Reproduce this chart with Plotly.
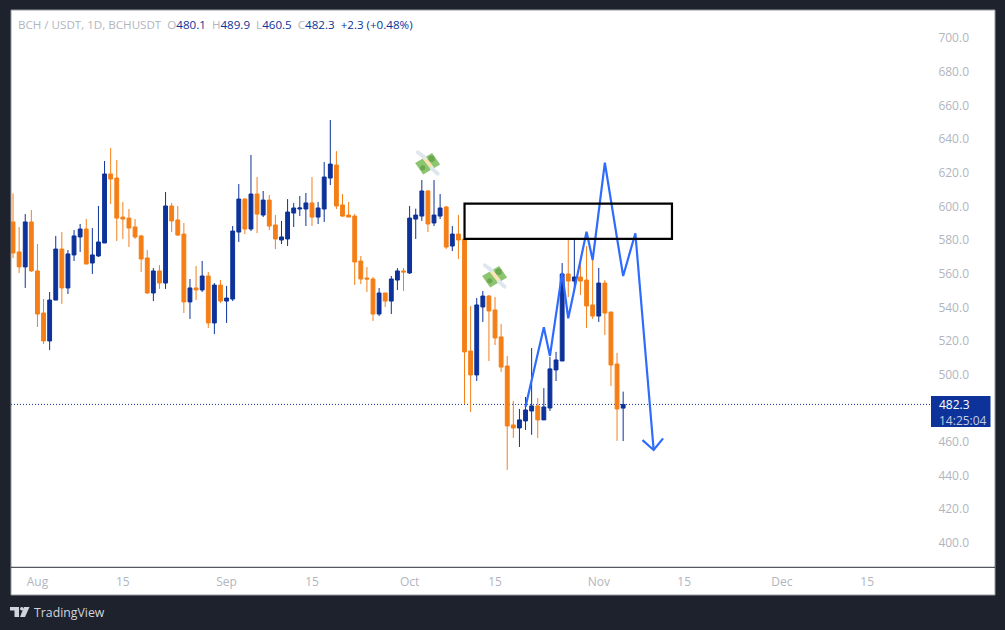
import base64
import pandas as pd
import plotly.graph_objects as go

# ---------- data ----------
start_date = "2021-07-28"
opens = [590.7,572.9,564.0,590.7,561.6,536.6,520.0,544.3,574.6,551.5,571.1,581.8,586.5,566.3,570.5,578.2,619.2,616.8,593.6,593.0,
587.7,582.4,569.3,548.5,561.6,554.4,600.2,591.9,583.5,543.2,551.5,550.3,558.6,530.7,553.2,543.7,544.9,584.7,604.3,586.5,
607.3,594.8,603.7,588.9,580.0,580.6,596.0,598.4,598.4,602.0,593.6,598.4,616.8,624.5,600.8,594.8,594.2,567.5,557.4,556.8,
536.0,548.5,543.7,556.2,561.6,560.4,592.4,594.2,609.1,590.1,594.2,599.6,576.4,583.5,580.6,514.0,499.8,540.2,546.7,538.4,
522.4,505.1,470.1,468.3,472.5,478.4,481.4,473.1,480.2,502.8,508.1,559.8,555.6,558.0,556.2,541.4,534.8,554.4,537.2,506.3,480.1]
highs = [607.7,587.7,595.4,597.8,577.6,545.0,549.1,582.4,584.7,574.0,585.9,589.5,592.5,587.1,600.2,626.9,634.6,627.5,602.6,598.4,
592.5,583.0,574.0,563.3,565.1,608.5,602.0,600.2,590.1,556.8,564.5,567.5,561.0,554.4,556.2,552.7,588.3,613.2,604.9,630.5,
617.4,609.1,606.7,594.8,591.3,604.3,602.0,606.1,607.9,617.4,602.6,626.3,651.3,632.8,607.3,602.6,595.4,570.5,563.9,558.0,
551.5,548.5,558.6,563.3,563.3,600.2,598.6,615.6,609.7,615.6,607.3,600.2,588.3,594.8,601.4,540.8,545.5,549.7,547.3,546.1,
530.1,511.1,484.4,479.6,486.7,515.8,486.1,492.0,510.5,513.5,566.3,580.6,580.6,567.5,576.4,568.7,563.4,556.2,537.2,512.9,489.9]
lows = [569.3,560.4,551.5,561.0,528.3,518.2,514.6,544.3,542.0,547.9,567.5,572.9,565.7,559.8,569.9,578.2,601.4,579.4,580.6,575.8,
580.6,561.0,547.9,543.7,550.9,550.9,584.7,582.4,536.6,533.1,544.3,549.1,527.7,524.1,542.6,530.7,543.7,578.8,583.5,585.3,
584.1,593.6,585.9,574.6,577.6,576.4,587.7,594.2,588.3,588.3,589.5,590.7,612.6,598.4,593.6,593.6,553.3,553.8,549.1,531.9,
534.8,540.2,536.0,550.3,549.7,559.8,580.6,591.3,584.7,588.3,592.5,574.6,573.4,568.7,482.6,477.8,496.2,531.3,508.1,517.6,
501.6,443.4,462.4,457.0,467.1,464.2,462.4,473.1,478.4,496.2,508.1,546.1,550.3,547.3,527.7,533.1,531.3,523.6,493.3,460.6,460.5]
closes = [572.3,564.0,590.7,561.6,536.0,520.0,544.3,574.6,551.5,571.7,582.4,586.5,565.7,571.1,578.8,619.2,616.2,593.0,592.4,587.1,
581.8,568.7,548.5,561.6,554.4,600.2,591.3,582.9,543.2,551.5,550.3,558.6,530.7,553.2,543.7,545.5,585.3,604.3,586.5,607.3,
595.4,603.7,588.3,580.6,581.8,596.6,599.0,599.0,602.0,593.6,599.0,617.4,625.1,600.2,594.2,593.6,566.9,556.8,556.8,536.0,
548.5,543.7,556.8,561.6,561.0,593.0,594.8,609.1,589.5,594.8,599.0,575.8,583.5,580.0,513.5,499.8,541.4,546.7,537.8,521.8,
504.5,469.5,468.3,473.1,479.0,481.4,473.1,480.8,503.4,508.7,559.8,555.6,558.0,555.6,540.8,534.8,554.4,536.6,505.7,479.6,482.3]

tick_dates = ["2021-08-01","2021-08-15","2021-09-01","2021-09-15","2021-10-01","2021-10-15","2021-11-01","2021-11-15","2021-12-01","2021-12-15"]
tick_labels = ["Aug","15","Sep","15","Oct","15","Nov","15","Dec","15"]
# 480.0 sits behind the last-price tag in the reference, so it is not listed
price_ticks = [400,420,440,460,500,520,540,560,580,600,620,640,660,680,700]
price_tick_labels = ["400.0","420.0","440.0","460.0","500.0","520.0","540.0","560.0","580.0","600.0","620.0","640.0","660.0","680.0","700.0"]

wave_dates = ["2021-10-20","2021-10-23","2021-10-24","2021-10-26","2021-10-27","2021-10-30","2021-10-31","2021-11-02","2021-11-05","2021-11-07","2021-11-10"]
wave_prices = [480.9,528.1,511.1,560.4,533.5,584.9,568.1,625.9,558.6,584.0,455.2]
arrow_dates = ["2021-11-08 04:00","2021-11-10","2021-11-11 13:00"]
arrow_prices = [461.1,455.2,462.1]

zone_dates = ["2021-10-10","2021-11-13"]
zone_prices = [580.6,601.6]
last_price = 482.3

# ---------- colours ----------
DARK = "#1e222d"
BLUE = "#0d3299"
ORANGE = "#f57f17"
LINE = "#2e6bff"
MUTED = "#b2b5be"
FONT = "Open Sans"

# ---------- pixel helpers for the chrome ----------
L, R, T, B = 11, 930, 11, 567
def px(x): return (x - L) / (R - L)
def py(y): return 1 - (y - T) / (B - T)

dates = pd.date_range(start_date, periods=len(opens))

fig = go.Figure()
fig.add_trace(go.Candlestick(
    x=dates, open=opens, high=highs, low=lows, close=closes,
    increasing=dict(line=dict(color=BLUE, width=1), fillcolor=BLUE),
    decreasing=dict(line=dict(color=ORANGE, width=1), fillcolor=ORANGE),
    whiskerwidth=0, hoverinfo="skip", showlegend=False,
))
for xs, ys in ((wave_dates, wave_prices), (arrow_dates, arrow_prices)):
    fig.add_trace(go.Scatter(x=xs, y=ys, mode="lines",
                             line=dict(color=LINE, width=2.2), hoverinfo="skip", showlegend=False))

def rect(x0, y0, x1, y1, fill, line=None, layer="below"):
    return dict(type="rect", xref="paper", yref="paper", x0=px(x0), x1=px(x1), y0=py(y0), y1=py(y1),
                fillcolor=fill, line=dict(color=line or fill, width=1 if line else 0), layer=layer)

def poly(points, fill):
    path = "M" + " L".join(f"{px(a):.5f},{py(b):.5f}" for a, b in points) + " Z"
    return dict(type="path", xref="paper", yref="paper", path=path, fillcolor=fill, line=dict(width=0), layer="above")

shapes = [
    rect(11, 10, 995, 595, "#ffffff", "#9598a1"),
    dict(type="line", xref="paper", yref="paper", x0=px(11), x1=px(995), y0=py(567.3), y1=py(567.3),
         line=dict(color="#2a2e39", width=1), layer="below"),
    dict(type="line", xref="paper", yref="y", x0=0, x1=1, y0=last_price, y1=last_price,
         line=dict(color=BLUE, width=1, dash="1px,2px"), layer="below"),
    dict(type="rect", xref="x", yref="y", x0=zone_dates[0], x1=zone_dates[1], y0=zone_prices[0], y1=zone_prices[1],
         line=dict(color="#000000", width=2.2), fillcolor="rgba(0,0,0,0)", layer="above"),
    rect(931, 396, 990.5, 427, BLUE, layer="above"),
    # TradingView logo
    poly([(10, 607), (19, 607), (19, 617), (14.5, 617), (14.5, 610.5), (10, 610.5)], "#d1d4dc"),
    poly([(24, 607), (29.5, 607), (25, 617), (20, 617)], "#d1d4dc"),
    dict(type="circle", xref="paper", yref="paper", x0=px(20), x1=px(23.6), y0=py(607), y1=py(610.6),
         fillcolor="#d1d4dc", line=dict(width=0), layer="above"),
]

svg = """<svg xmlns='http://www.w3.org/2000/svg' width='84' height='84' viewBox='0 0 26 26'>
<polygon points='1.5,13 17.3,3.8 24.7,14.3 9,23.7' fill='#8cc56f'/>
<circle cx='16.8' cy='9' r='3' fill='#6aa84f'/><circle cx='8.5' cy='17.5' r='2.4' fill='#6aa84f'/>
<polygon points='8,8.5 11,6.8 19,17 16,18.8' fill='#fde3b4'/>
<path d='M4 3 L10.5 8' stroke='#dfe7ee' stroke-width='3.6' stroke-linecap='round'/>
<path d='M17 18 L22.5 23' stroke='#dfe7ee' stroke-width='3.6' stroke-linecap='round'/>
</svg>"""
src = "data:image/svg+xml;base64," + base64.b64encode(svg.encode()).decode()
emoji_size = 28
images = [dict(source=src, xref="paper", yref="paper", x=px(cx - emoji_size / 2), y=py(cy - emoji_size / 2),
               sizex=emoji_size / (R - L), sizey=emoji_size / (B - T), xanchor="left", yanchor="top", layer="above")
          for cx, cy in ((427.5, 163), (494.5, 276))]

gray = lambda s: f"<span style='color:{MUTED}'>{s}</span>"
blue = lambda s: f"<span style='color:{BLUE}'>{s}</span>"
header = (gray("BCH / USDT, 1D, BCHUSDT") + "  " + gray("O") + blue("480.1") + "  " + gray("H") + blue("489.9") + "  "
          + gray("L") + blue("460.5") + "  " + gray("C") + blue("482.3") + "  " + blue("+2.3 (+0.48%)"))

def note(x, y, text, color, size=12):
    return dict(xref="paper", yref="paper", x=px(x), y=py(y), text=text, showarrow=False,
                xanchor="left", yanchor="middle", align="left",
                font=dict(family=FONT, size=size, color=color))

fig.update_layout(
    width=1005, height=630, autosize=False,
    margin=dict(l=L, r=1005 - R, t=T, b=630 - B, pad=0),
    paper_bgcolor=DARK, plot_bgcolor="rgba(0,0,0,0)",
    font=dict(family=FONT, size=12, color=MUTED),
    showlegend=False, boxgap=0.1, hovermode=False,
    shapes=shapes, images=images,
    annotations=[
        note(16, 24.5, header, MUTED, 11.6),
        note(937, 404, "482.3", "#ffffff", 12),
        note(937, 420, "14:25:04", "#c3cbe3", 12),
        note(31.5, 612.5, "TradingView", "#d1d4dc", 12.3),
    ],
    xaxis=dict(type="date", range=["2021-07-27 16:00", "2021-12-25 07:00"],
               tickmode="array", tickvals=tick_dates, ticktext=tick_labels,
               showgrid=False, zeroline=False, showline=False, rangeslider=dict(visible=False),
               ticks="outside", ticklen=4, tickcolor="rgba(0,0,0,0)",
               tickfont=dict(family=FONT, size=12, color=MUTED)),
    yaxis=dict(side="right", range=[385.7, 716.04],
               tickmode="array", tickvals=price_ticks, ticktext=price_tick_labels,
               showgrid=False, zeroline=False, showline=False,
               ticks="outside", ticklen=5, tickcolor="rgba(0,0,0,0)",
               tickfont=dict(family=FONT, size=12, color=MUTED)),
)

fig.write_html("out.html", config=dict(displayModeBar=False, staticPlot=True),
               post_script="document.body.style.margin='0';document.body.style.background='#1e222d';document.documentElement.style.overflow='hidden';")
